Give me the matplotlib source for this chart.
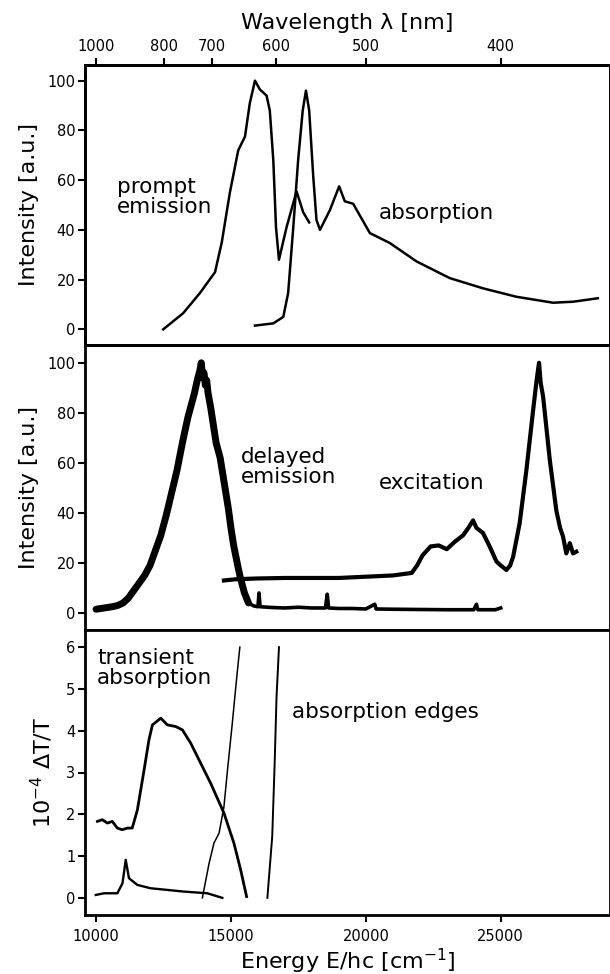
import numpy as np
import matplotlib
matplotlib.use("Agg")
import matplotlib.pyplot as plt

plt.rcParams['font.family'] = ['DejaVu Sans']

# ---- prompt emission (energy in cm^-1, intensity a.u.) ----
prompt_E = [12490, 13230, 13850, 14410, 14660, 14960, 15270, 15520, 15700, 15890,
            16070, 16320, 16440, 16570, 16670, 16780, 17060, 17430, 17680, 17900]
prompt_I = [0, 6.5, 14.6, 23, 35, 55, 72, 77.5, 91, 100,
            96.5, 94, 88, 68, 41, 28, 41, 55.5, 47, 43]

# ---- absorption ----
abs_E = [15890, 16570, 16940, 17120, 17310, 17490, 17660, 17780, 17900, 18050,
         18170, 18300, 18670, 19010, 19220, 19530, 20150, 20890, 21880, 23110,
         24340, 25580, 26940, 27680, 28600]
abs_I = [1.5, 2.4, 5, 14.6, 41, 68, 88, 96, 88, 61.5,
         44, 40, 48, 57.5, 51.5, 50.5, 38.7, 34.7, 27.3, 20.6,
         16.5, 13.1, 10.7, 11.1, 12.5]

# ---- delayed emission ----
delayed_E = [10000, 10300, 10600, 10800, 11000, 11200, 11400, 11600, 11800, 12000,
             12200, 12400, 12600, 12800, 13000, 13200, 13400, 13550, 13650, 13750,
             13850, 13900, 13950, 14000, 14050, 14100, 14150, 14250, 14350, 14450,
             14600, 14750, 14900, 15000, 15100, 15250, 15350, 15500, 15650, 15850,
             16000, 16040, 16080, 16500, 17000, 17500, 18000, 18500, 18570, 18620,
             19000, 19500, 20000, 20330, 20380, 21000, 22000, 23000, 24000, 24100,
             24150, 24800, 25000]
delayed_I = [1.5, 2, 2.5, 3, 4, 6, 9, 12, 15, 19,
             25, 31, 39, 48, 57, 68, 78, 84, 88, 93,
             97, 100, 94, 96, 91, 93, 88, 82, 75, 68,
             62, 52, 42, 34, 27, 19, 14, 8, 4, 2.8,
             2.5, 8, 2.5, 2.2, 2, 2.3, 2, 2, 7.5, 2,
             1.8, 1.8, 1.6, 3.5, 1.6, 1.5, 1.4, 1.3, 1.3, 3.5,
             1.3, 1.3, 2]

# ---- excitation ----
exc_E = [14740, 15200, 16000, 17000, 18000, 19000, 20000, 21000, 21700, 21900,
         22100, 22400, 22700, 23000, 23300, 23600, 23800, 23975, 24100, 24340,
         24590, 24840, 25000, 25210, 25350, 25460, 25700, 25950, 26200, 26330,
         26380, 26420, 26480, 26570, 26820, 27060, 27200, 27310, 27430, 27560,
         27680, 27800]
exc_I = [13, 13.5, 13.8, 14, 14, 14, 14.5, 15, 16, 19,
         23, 26.6, 27, 25.5, 28.5, 31, 34, 37, 34, 32,
         26.6, 20.6, 19, 17.2, 19, 22.5, 35.8, 57, 81, 93,
         97, 100, 92, 86.5, 61, 41, 34, 30.5, 23.8, 27.9,
         23.8, 24.5]

# ---- transient absorption (10^-4 dT/T) ----
trans_E = [10050, 10230, 10420, 10600, 10790, 10970, 11160, 11340, 11530, 11780,
           11960, 12090, 12400, 12640, 12950, 13200, 13510, 13880, 14250, 14740,
           15110, 15360, 15580]
trans_V = [1.83, 1.87, 1.79, 1.83, 1.67, 1.63, 1.67, 1.67, 2.1, 3.06,
           3.78, 4.14, 4.3, 4.14, 4.1, 4.02, 3.7, 3.22, 2.74, 2.03,
           1.31, 0.67, 0.03]

trans2_E = [9990, 10300, 10790, 10980, 11100, 11220, 11530, 12020, 13260, 14120, 14680]
trans2_V = [0.07, 0.11, 0.11, 0.35, 0.91, 0.47, 0.31, 0.23, 0.15, 0.11, 0.0]

# ---- absorption edges ----
edge1_E = [13940, 14190, 14370, 14560, 14740, 14860, 15050, 15230, 15330]
edge1_V = [0, 0.83, 1.31, 1.55, 2.18, 2.98, 4.18, 5.38, 6.0]
edge2_E = [16350, 16530, 16620, 16690, 16750, 16780]
edge2_V = [0, 1.47, 3.22, 4.82, 5.6, 6.0]

# ---- axis ticks ----
energy_ticks = [10000, 15000, 20000, 25000]
wavelength_ticks = [1000, 800, 700, 600, 500, 400]
intensity_ticks = [0, 20, 40, 60, 80, 100]
dtt_ticks = [0, 1, 2, 3, 4, 5, 6]

W, H = 610, 974
fig = plt.figure(figsize=(W / 100, H / 100), dpi=100)

left = 85 / W
width = 1.0 - left


def box(top_px, bot_px):
    return [left, 1 - bot_px / H, width, (bot_px - top_px) / H]


ax1 = fig.add_axes(box(65, 345))
ax2 = fig.add_axes(box(345, 630))
ax3 = fig.add_axes(box(630, 915))

xlim = (9590, 29050)
tick_fs = 10.5
lab_fs = 16
txt_fs = 15.5


def style(ax):
    for s in ax.spines.values():
        s.set_linewidth(2.0)
    ax.tick_params(direction='out', length=5, width=1.5, labelsize=tick_fs, pad=2)


for ax in (ax1, ax2, ax3):
    ax.set_xlim(*xlim)
    style(ax)

# panel 1: prompt emission and absorption
ax1.plot(prompt_E, prompt_I, color='black', lw=1.8, solid_joinstyle='round')
ax1.plot(abs_E, abs_I, color='black', lw=1.8, solid_joinstyle='round')
ax1.set_ylim(-6.3, 106.3)
ax1.set_yticks(intensity_ticks)
ax1.set_xticks([])
ax1.set_ylabel('Intensity [a.u.]', fontsize=lab_fs, labelpad=6)

top = ax1.twiny()
top.set_xlim(*xlim)
top.set_xticks([1e7 / w for w in wavelength_ticks])
top.set_xticklabels([str(w) for w in wavelength_ticks])
style(top)
top.tick_params(axis='x', pad=3)
top.set_xlabel('Wavelength λ [nm]', fontsize=lab_fs, labelpad=7)

# panel 2: delayed emission and excitation
n_peak = 39
ax2.plot(delayed_E, delayed_I, color='black', lw=2.6, solid_joinstyle='round')
ax2.plot(delayed_E[:n_peak], delayed_I[:n_peak], color='black', lw=5.0,
         solid_joinstyle='round', solid_capstyle='round')
ax2.plot(exc_E, exc_I, color='black', lw=3.0, solid_joinstyle='round')
ax2.set_ylim(-6.8, 107.1)
ax2.set_yticks(intensity_ticks)
ax2.set_xticks([])
ax2.set_ylabel('Intensity [a.u.]', fontsize=lab_fs, labelpad=6)

# panel 3: transient absorption and absorption edges
ax3.plot(trans_E, trans_V, color='black', lw=2.0, solid_joinstyle='round')
ax3.plot(trans2_E, trans2_V, color='black', lw=1.7, solid_joinstyle='round')
ax3.plot(edge1_E, edge1_V, color='black', lw=1.1)
ax3.plot(edge2_E, edge2_V, color='black', lw=1.4)
ax3.set_ylim(-0.41, 6.41)
ax3.set_yticks(dtt_ticks)
ax3.set_xticks(energy_ticks)
ax3.tick_params(axis='x', pad=5)
ax3.set_ylabel('10$^{-4}$ ΔT/T', fontsize=lab_fs, labelpad=8)
ax3.set_xlabel('Energy E/hc [cm$^{-1}$]', fontsize=lab_fs, labelpad=2)


# curve annotations, placed in pixels from the top-left corner
def label(x_px, y_px, s):
    fig.text(x_px / W, 1 - y_px / H, s, fontsize=txt_fs, ha='left', va='center',
             linespacing=0.95)


label(117, 197, 'prompt\nemission')
label(379, 213, 'absorption')
label(241, 467, 'delayed\nemission')
label(379, 483, 'excitation')
label(97, 668, 'transient\nabsorption')
label(292, 712, 'absorption edges')

fig.savefig('out.png', dpi=100)
